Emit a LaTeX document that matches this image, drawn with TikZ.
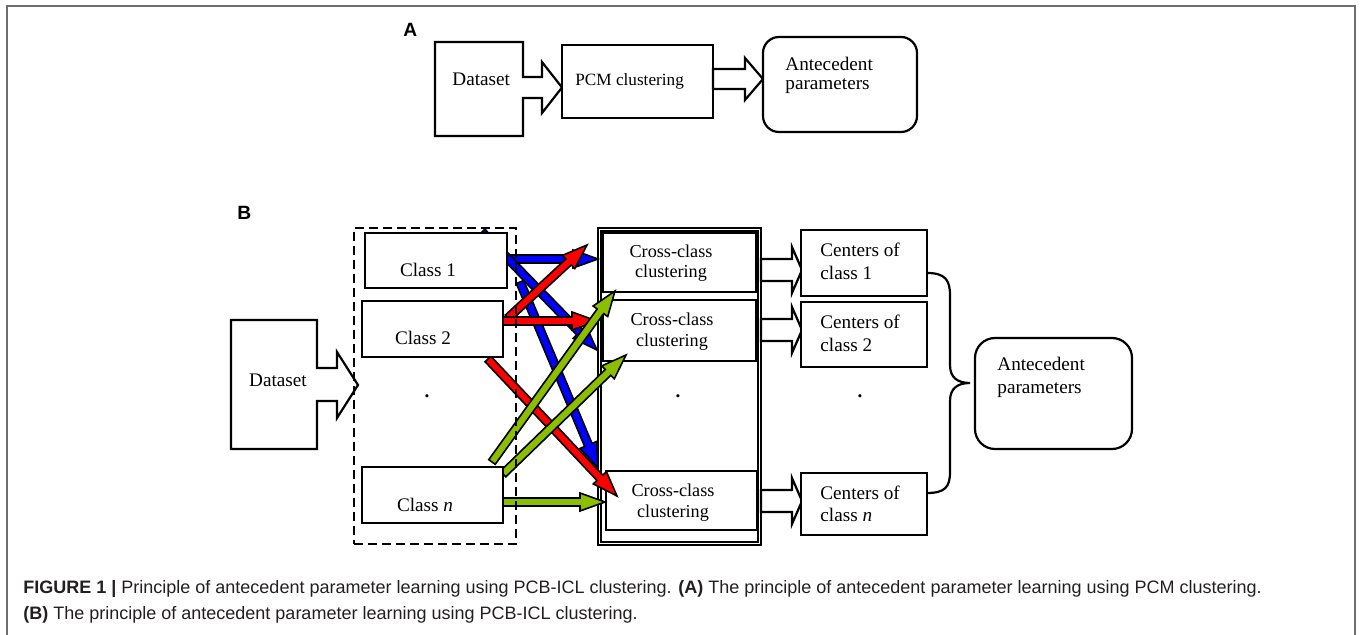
\documentclass[tikz,border=0pt]{standalone}
\usepackage{fontspec}
\setmainfont{Liberation Serif}
\setsansfont{Liberation Sans}
\usetikzlibrary{calc}
\definecolor{ablue}{RGB}{0,0,255}
\definecolor{ared}{RGB}{255,0,0}
\definecolor{agreen}{RGB}{140,190,0}
\definecolor{framegray}{RGB}{110,110,110}
\definecolor{captxt}{RGB}{35,31,32}
% block arrow: #1 style, #2 from, #3 to, #4 shaft half width, #5 head half width, #6 head length
\newcommand\barrow[6]{%
  \path ($(#3)!#6!(#2)$) coordinate (bq);
  \draw[#1] ($(#2)!#4!90:(#3)$) -- ($(bq)!#4!90:(#3)$) -- ($(bq)!#5!90:(#3)$) -- (#3)
    -- ($(bq)!#5!-90:(#3)$) -- ($(bq)!#4!-90:(#3)$) -- ($(#2)!#4!-90:(#3)$) -- cycle;}
% rectangle node from corners (px)
\newcommand\rbox[6]{%
  \node[#6, inner sep=0pt, outer sep=0pt, minimum width={(#4-#2)*0.5pt},
    minimum height={(#5-#3)*0.5pt}] (#1) at ({(#2+#4)/2},{(#3+#5)/2}) {};}
\begin{document}
\begin{tikzpicture}[x=0.5pt,y=-0.5pt,
  box/.style={draw=black, line width=1.1pt, fill=white},
  wbox/.style={draw=black, line width=1.1pt, fill=white, line join=miter},
  carrow/.style={draw=black, line width=0.8pt, fill=#1, line join=miter},
  lbl/.style={font=\fontsize{9.6}{10.5}\selectfont, inner sep=0pt, anchor=base west},
  lblc/.style={font=\fontsize{9.1}{10}\selectfont, inner sep=0pt, anchor=base},
  panel/.style={font=\sffamily\bfseries\fontsize{9.6}{11}\selectfont, inner sep=0pt, anchor=base west},
  captext/.style={font=\sffamily\fontsize{9}{10}\selectfont, text=captxt, inner sep=0pt, anchor=base west}]
\useasboundingbox (0,0) rectangle (1360,635);
% frame
\draw[framegray, line width=1pt] (7,635) -- (7,6) -- (1355,6) -- (1355,635);

% ---------------- Panel A ----------------
\node[panel] (labA) at (403,37) {A};
\draw[box, line join=miter] (435,42) -- (523,42) -- (523,77) -- (542,77) -- (542,62) -- (562,87.5)
  -- (542,113) -- (542,98) -- (523,98) -- (523,136) -- (435,136) -- cycle;
\node[lbl] (dsAt) at (452,86) {Dataset};
\rbox{pcm}{562}{45}{713}{118}{box}
\node[lbl, font=\fontsize{8.6}{10}\selectfont] (pcmt) at (575,86) {PCM clustering};
\coordinate (a2s) at (713,79);
\coordinate (a2e) at (763,79);
\barrow{wbox}{a2s}{a2e}{5pt}{10.5pt}{9pt}
\rbox{antA}{763}{37}{917}{132}{box, rounded corners=8pt}
\node[lbl] (antA1) at (785,71) {Antecedent};
\node[lbl] (antA2) at (785,90) {parameters};

% ---------------- Panel B ----------------
\node[panel] (labB) at (237,220) {B};
% dataset callout
\draw[box, line join=miter] (231,320) -- (317,320) -- (317,368) -- (337,368) -- (337,352) -- (358,385)
  -- (337,418) -- (337,401) -- (317,401) -- (317,449) -- (231,449) -- cycle;
\node[lbl, anchor=base] (dsBt) at (278,387) {Dataset};

% container with cross-class clustering boxes
\rbox{cont}{599.5}{229.5}{759.5}{543.5}{draw=black, double, line width=0.7pt, double distance=0.9pt}
\rbox{cc1}{603}{233}{756}{292}{box}
\node[lblc] (cc1a) at (671,258) {Cross-class};
\node[lblc] (cc1b) at (671,278) {clustering};
\rbox{cc2}{603}{300}{756}{361}{box}
\node[lblc] (cc2a) at (672,326) {Cross-class};
\node[lblc] (cc2b) at (672,347) {clustering};
\rbox{ccn}{606}{471}{757}{530}{box}
\node[lblc] (ccna) at (673,497) {Cross-class};
\node[lblc] (ccnb) at (673,518) {clustering};
\node[lbl, anchor=base, font=\bfseries\fontsize{9.6}{10.5}\selectfont] (dotc) at (678,398) {.};

% coloured arrows
\coordinate (b1s) at (495,259); \coordinate (b1e) at (598,259);
\coordinate (b2s) at (482,232); \coordinate (b2e) at (597,350);
\coordinate (b3s) at (520,282); \coordinate (b3e) at (598,468);
\coordinate (r1s) at (508,318); \coordinate (r1e) at (587,245);
\coordinate (r2s) at (495,321); \coordinate (r2e) at (597,321);
\coordinate (r3s) at (488,359); \coordinate (r3e) at (617,496);
\coordinate (g1s) at (492,462); \coordinate (g1e) at (615,291);
\coordinate (g2s) at (503,474); \coordinate (g2e) at (626,355);
\coordinate (g3s) at (495,502); \coordinate (g3e) at (605,502);
\barrow{carrow=ablue}{b1s}{b1e}{2pt}{4.5pt}{12.5pt}
\barrow{carrow=ablue}{b2s}{b2e}{2pt}{4.5pt}{12.5pt}
\barrow{carrow=ablue}{b3s}{b3e}{2pt}{4.5pt}{12.5pt}
\barrow{carrow=ared}{r1s}{r1e}{2pt}{4.5pt}{12.5pt}
\barrow{carrow=ared}{r2s}{r2e}{2pt}{4.5pt}{12.5pt}
\barrow{carrow=ared}{r3s}{r3e}{2pt}{4.5pt}{12.5pt}
\barrow{carrow=agreen}{g1s}{g1e}{2pt}{4.5pt}{12.5pt}
\barrow{carrow=agreen}{g2s}{g2e}{2pt}{4.5pt}{12.5pt}
\barrow{carrow=agreen}{g3s}{g3e}{2pt}{4.5pt}{12.5pt}

% class boxes
\rbox{cl1}{365}{233}{507}{288}{box}
\node[lbl, anchor=base] (cl1t) at (428,277) {Class 1};
\rbox{cl2}{362}{301}{503}{357}{box}
\node[lbl, anchor=base] (cl2t) at (423,345) {Class 2};
\node[lbl, anchor=base, font=\bfseries\fontsize{9.6}{10.5}\selectfont] (dotl) at (427,398) {.};
\rbox{cln}{362}{467}{503}{523}{box}
\node[lbl, anchor=base] (clnt) at (425,512) {Class \textit{n}};
% dashed group
\rbox{grp}{354}{228}{516}{544}{draw=black, line width=1.1pt, dash pattern=on 4.5pt off 2.5pt}

% block arrows to centers
\coordinate (w1s) at (761,270); \coordinate (w1e) at (802,270);
\coordinate (w2s) at (761,330); \coordinate (w2e) at (802,330);
\coordinate (w3s) at (761,501); \coordinate (w3e) at (802,501);
\barrow{wbox}{w1s}{w1e}{5.5pt}{11.5pt}{5pt}
\barrow{wbox}{w2s}{w2e}{5.5pt}{11.5pt}{5pt}
\barrow{wbox}{w3s}{w3e}{5.5pt}{11.5pt}{5pt}

% centers boxes
\rbox{ce1}{801}{230}{927}{296}{box}
\node[lbl] (ce1a) at (820,257) {Centers of};
\node[lbl] (ce1b) at (820,280) {class 1};
\rbox{ce2}{801}{302}{927}{367}{box}
\node[lbl] (ce2a) at (820,329) {Centers of};
\node[lbl] (ce2b) at (820,352) {class 2};
\node[lbl, anchor=base, font=\bfseries\fontsize{9.6}{10.5}\selectfont] (dotr) at (860,398) {.};
\rbox{cen}{801}{473}{927}{535}{box}
\node[lbl] (cena) at (820,500) {Centers of};
\node[lbl] (cenb) at (820,522) {class \textit{n}};

% brace
\draw[line width=1.1pt] (927,273) .. controls (945,273) and (950,280) .. (950,295) -- (950,365)
  .. controls (950,378) and (958,383) .. (970,383)
  .. controls (958,383) and (950,388) .. (950,401) -- (950,472)
  .. controls (950,487) and (945,493) .. (927,493);

% antecedent parameters (B)
\rbox{antB}{975}{338}{1132}{449}{box, rounded corners=10pt}
\node[lbl] (antB1) at (997,371) {Antecedent};
\node[lbl] (antB2) at (997,394) {parameters};

% caption
\node[captext] (cap1) at (23,594) {\textbf{FIGURE 1 |} Principle of antecedent parameter learning using PCB-ICL clustering. \textbf{(A)} The principle of antecedent parameter learning using PCM clustering.};
\node[captext] (cap2) at (23,620) {\textbf{(B)} The principle of antecedent parameter learning using PCB-ICL clustering.};
\end{tikzpicture}
\end{document}
